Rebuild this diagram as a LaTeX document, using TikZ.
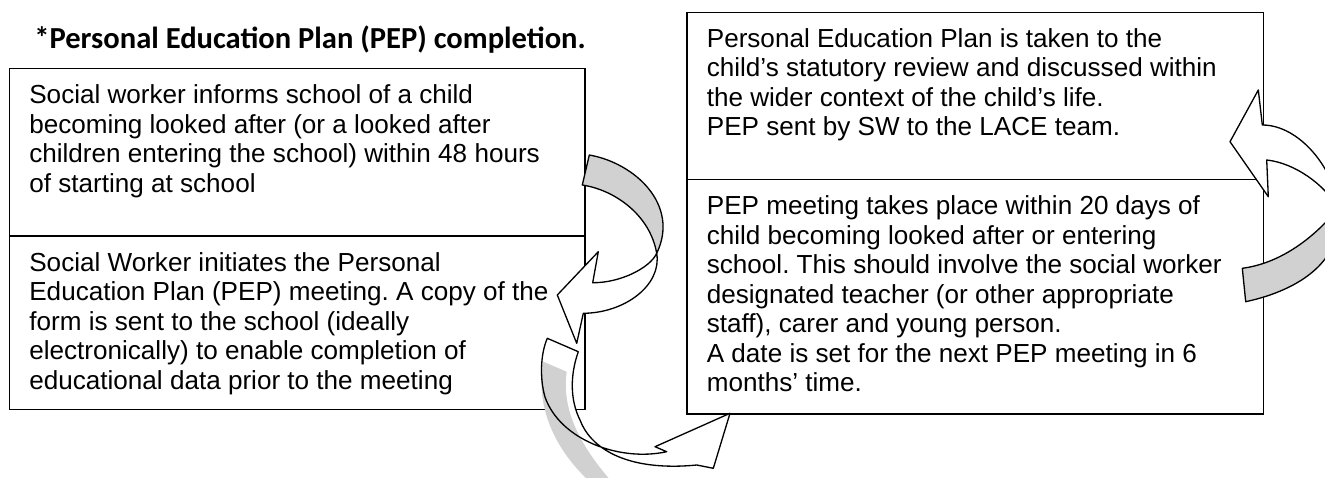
\documentclass[tikz,border=0pt]{standalone}
\usepackage{fontspec}
\setmainfont{Liberation Sans}
\newfontfamily\pepfont{Carlito}
\usepackage{xcolor}
\usepackage{tikz}
\usetikzlibrary{positioning}
\definecolor{ribbon}{gray}{0.82}
\frenchspacing

\begin{document}
\begin{tikzpicture}[x=0.02cm, y=-0.02cm,
    pepbox/.style={draw, line width=0.85pt, rectangle, anchor=north west, inner sep=0pt},
    peptext/.style={align=left, inner sep=0pt, font=\fontsize{14.85}{16.8}\selectfont},
    backface/.style={fill=ribbon, draw=black, line width=0.75pt, line join=round},
    frontface/.style={fill=white, draw=black, line width=0.75pt, line join=round}]

\useasboundingbox (0,0) rectangle (1325,477);

% title
\node[anchor=base west, inner sep=0pt, font=\pepfont\bfseries\fontsize{17.4}{20}\selectfont] (title) at (34,48) {*Personal Education Plan (PEP) completion.};

% left column boxes
\node[pepbox, minimum width=11.52cm, minimum height=3.35cm] (box1) at (8.5,68) {};
\node[pepbox, minimum width=11.52cm, minimum height=3.47cm] (box2) at (8.5,235.5) {};

% right column boxes
\node[pepbox, minimum width=11.54cm, minimum height=3.346cm] (box3) at (686,11.7) {};
\node[pepbox, minimum width=11.54cm, minimum height=4.69cm] (box4) at (686,179) {};

% box texts
\node[peptext, below right=0.326cm and 0.41cm of box1.north west] (txt1)
    {Social worker informs school of a child\\
     becoming looked after (or a looked after\\
     children entering the school) within 48 hours\\
     of starting at school};
\node[peptext, below right=0.326cm and 0.41cm of box2.north west] (txt2)
    {Social Worker initiates the Personal\\
     Education Plan (PEP) meeting. A copy of the\\
     form is sent to the school (ideally\\
     electronically) to enable completion of\\
     educational data prior to the meeting};
\node[peptext, below right=0.326cm and 0.41cm of box3.north west] (txt3)
    {Personal Education Plan is taken to the\\
     child’s statutory review and discussed within\\
     the wider context of the child’s life.\\
     PEP sent by SW to the LACE team.};
\node[peptext, below right=0.326cm and 0.41cm of box4.north west] (txt4)
    {PEP meeting takes place within 20 days of\\
     child becoming looked after or entering\\
     school. This should involve the social worker\\
     designated teacher (or other appropriate\\
     staff), carer and young person.\\
     A date is set for the next PEP meeting in 6\\
     months’ time.};

% curved block arrows
\begin{scope}
\clip (0,0) rectangle (1325,477);

% box1 -> box2
\path[backface] (589.3,155) .. controls (635,163) and (680,205) .. (656.7,253.3)
    .. controls (650,215) and (615,190) .. (582.3,185) -- cycle;
\path[frontface] (656.7,253.3) .. controls (650,268) and (620,283) .. (592.7,282.7)
    -- (598.3,251.7) -- (557.3,295) -- (576.7,343.3) -- (583.3,313.3)
    .. controls (625,313) and (662,285) .. (656.7,253.3) -- cycle;

% box2 -> box4
\def\ribbonB{(547.3,338.3) -- (578.3,351.7)
    .. controls (570,375) and (570,400) .. (580,420)
    .. controls (590,447) and (625,472) .. (696.7,465)
    -- (713.3,468.3) -- (730,413.3) -- (655,446.7) -- (666.7,451.7)
    .. controls (620,462) and (560,440) .. (545,397)
    .. controls (540,380) and (540,355) .. (547.3,338.3) -- cycle}
\fill[white] \ribbonB;
\fill[ribbon] (543.3,361.7) .. controls (537,395) and (545,440) .. (590,482)
    -- (612,482) .. controls (575,440) and (562,405) .. (566.7,371.7) -- cycle;
\draw[line width=0.75pt, line join=round] \ribbonB;

% box4 -> box3
\path[backface] (1242.3,268.3) .. controls (1290,262) and (1325,225) .. (1338,208)
    .. controls (1345,260) and (1300,290) .. (1245.7,301.7) -- cycle;
\path[frontface] (1338,208) .. controls (1335,170) and (1300,125) .. (1262.3,125)
    -- (1258.3,90) -- (1230,141.7) -- (1268.3,196.7) -- (1266.7,160)
    .. controls (1295,163) and (1325,185) .. (1338,208) -- cycle;
\end{scope}
\end{tikzpicture}
\end{document}
